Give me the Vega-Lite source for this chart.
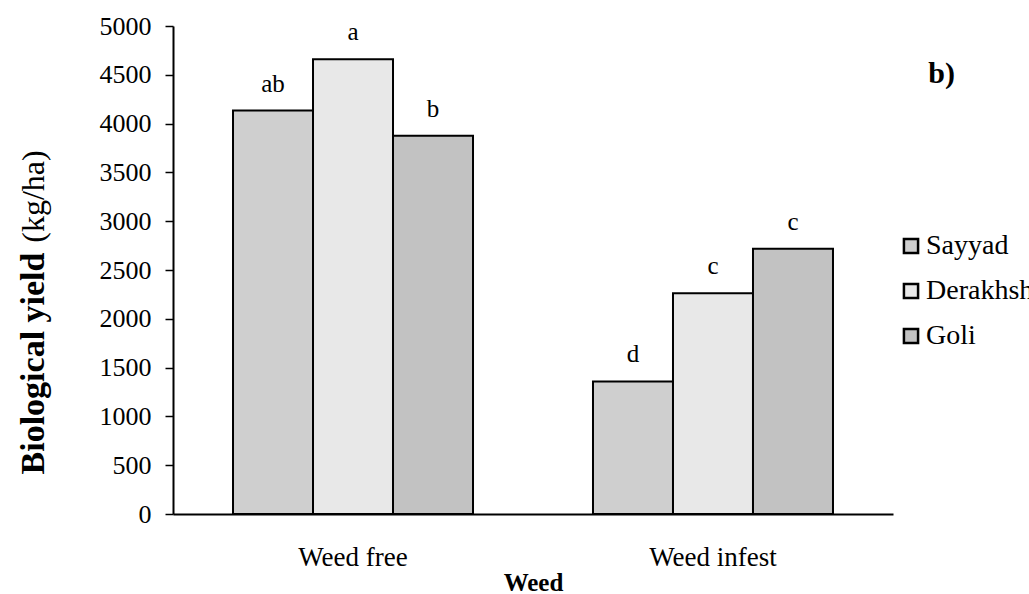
{
  "$schema": "https://vega.github.io/schema/vega-lite/v6.json",
  "autosize": "none",
  "width": 720,
  "height": 488,
  "padding": {"left": 173, "top": 26, "right": 136, "bottom": 80},
  "background": "white",
  "config": {
    "view": {"stroke": null},
    "font": "Liberation Serif",
    "axis": {"labelFont": "Liberation Serif", "titleFont": "Liberation Serif", "labelColor": "black", "titleColor": "black"},
    "legend": {"labelFont": "Liberation Serif"}
  },
  "title": {"text": "b)", "anchor": "end", "frame": "group", "fontSize": 30, "fontWeight": "bold", "font": "Liberation Serif", "color": "black", "dx": 62, "dy": 80},
  "data": {
    "values": [
      {"weed": "Weed free", "cultivar": "Sayyad", "yield": 4134, "letter": "ab"},
      {"weed": "Weed free", "cultivar": "Derakhshan", "yield": 4660, "letter": "a"},
      {"weed": "Weed free", "cultivar": "Goli", "yield": 3875, "letter": "b"},
      {"weed": "Weed infest", "cultivar": "Sayyad", "yield": 1358, "letter": "d"},
      {"weed": "Weed infest", "cultivar": "Derakhshan", "yield": 2262, "letter": "c"},
      {"weed": "Weed infest", "cultivar": "Goli", "yield": 2717, "letter": "c"}
    ]
  },
  "encoding": {
    "x": {
      "field": "weed", "type": "nominal", "sort": ["Weed free", "Weed infest"],
      "scale": {"paddingInner": 0.3333, "paddingOuter": 0.1667},
      "title": "Weed",
      "axis": {"labelAngle": 0, "labelFontSize": 27, "labelPadding": 30, "ticks": false, "domainColor": "black", "domainWidth": 2, "titleFontSize": 25, "titleFontWeight": "bold", "titlePadding": 0}
    },
    "xOffset": {"field": "cultivar", "type": "nominal", "sort": ["Sayyad", "Derakhshan", "Goli"], "scale": {"paddingInner": 0, "paddingOuter": 0}}
  },
  "layer": [
    {
      "mark": {"type": "bar", "stroke": "black", "strokeWidth": 2},
      "encoding": {
        "y": {
          "field": "yield", "type": "quantitative",
          "scale": {"domain": [0, 5000]},
          "axis": {"values": [0,500,1000,1500,2000,2500,3000,3500,4000,4500,5000], "format": "d", "grid": false, "labelFontSize": 26, "tickColor": "black", "tickSize": 8, "domainColor": "black", "domainWidth": 2, "tickWidth": 1.5, "labelPadding": 14,
                   "title": "Biological yield", "titleFontSize": 34, "titleFontWeight": "bold", "titleX": -140, "titleY": 337, "titleAngle": -90, "titleAlign": "center", "titleBaseline": "middle"}
        },
        "fill": {
          "field": "cultivar", "type": "nominal", "sort": ["Sayyad", "Derakhshan", "Goli"],
          "scale": {"domain": ["Sayyad", "Derakhshan", "Goli"], "range": ["#cfcfcf", "#e8e8e8", "#c2c2c2"]},
          "legend": {"title": null, "orient": "none", "legendX": 724, "legendY": 206, "symbolType": "square", "symbolSize": 200, "symbolStrokeColor": "black", "symbolStrokeWidth": 2.5, "labelFontSize": 28, "labelColor": "black", "rowPadding": 17, "labelOffset": 1}
        }
      }
    },
    {
      "mark": {"type": "text", "baseline": "alphabetic", "dy": -19, "fontSize": 25, "font": "Liberation Serif", "color": "black"},
      "encoding": {
        "y": {"field": "yield", "type": "quantitative", "scale": {"domain": [0, 5000]},
              "axis": {"orient": "left", "labels": false, "ticks": false, "domain": false, "grid": false, "title": "(kg/ha)", "titleFontSize": 32, "titleFontWeight": "normal", "titleX": -140, "titleY": 170, "titleAngle": -90, "titleAlign": "center", "titleBaseline": "middle"}},
        "text": {"field": "letter"}
      }
    }
  ],
  "resolve": {"axis": {"y": "independent"}}
}
